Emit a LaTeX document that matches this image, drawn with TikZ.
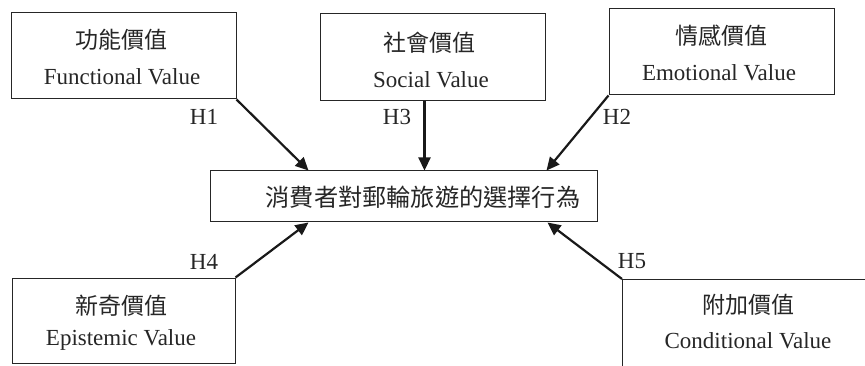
\documentclass[tikz,border=0pt]{standalone}
\usepackage{fontspec}
\setmainfont{Liberation Serif}
\newfontfamily\cjk{Noto Sans CJK TC}
\usetikzlibrary{arrows.meta,calc}
\tikzset{
  vbox/.style={draw=black!85, line width=1pt, rectangle, inner sep=0pt},
  zh/.style={font=\cjk\fontsize{23}{27}\selectfont, text=black!85, inner sep=0pt},
  en/.style={font=\fontsize{23}{27}\selectfont, text=black!85, inner sep=0pt},
  hlab/.style={font=\fontsize{23}{27}\selectfont, text=black!85, inner sep=0pt},
  arr/.style={line width=2.2pt, draw=black!90, -{Triangle[length=13pt,width=12pt]}, shorten >=0pt}
}
\begin{document}
\begin{tikzpicture}[x=1pt,y=-1pt]
\useasboundingbox (0,0) rectangle (865,366);
\clip (0,0) rectangle (865,366);
% boxes
\node[vbox, minimum width=225pt, minimum height=86pt] (f) at (123.5,56) {};
\node[vbox, minimum width=225pt, minimum height=87pt] (s) at (432.5,57.5) {};
\node[vbox, minimum width=225pt, minimum height=86pt] (e) at (721.5,52) {};
\node[vbox, minimum width=387pt, minimum height=51pt] (c) at (403.5,196.5) {};
\node[vbox, minimum width=223pt, minimum height=85pt] (p) at (123.5,320.5) {};
\node[vbox, anchor=north west, minimum width=270pt, minimum height=110pt] (d) at (622,279) {};
% texts
\node[zh] (fz) at (121,40) {功能價值};
\node[en] (fe) at (122,77) {Functional Value};
\node[zh] (sz) at (429,43) {社會價值};
\node[en] (se) at (431,80) {Social Value};
\node[zh] (ez) at (721,36) {情感價值};
\node[en] (ee) at (719,73) {Emotional Value};
\node[zh, font=\cjk\fontsize{24.2}{28}\selectfont] (cz) at (423,197) {消費者對郵輪旅遊的選擇行為};
\node[zh] (pz) at (121,306) {新奇價值};
\node[en] (pe) at (121,340) {Epistemic Value};
\node[zh] (dz) at (748,305) {附加價值};
\node[en] (de) at (748,341) {Conditional Value};
% hypothesis labels
\node[hlab] (h1) at (204,117) {H1};
\node[hlab] (h3) at (397,117) {H3};
\node[hlab] (h2) at (617,117) {H2};
\node[hlab] (h4) at (204,262) {H4};
\node[hlab] (h5) at (632,261) {H5};
% arrow targets
\coordinate (t1) at ($(c.north west)+(99,0)$);
\coordinate (t3) at ($(c.north west)+(215,0)$);
\coordinate (t2) at ($(c.north west)+(337,0)$);
\coordinate (t4) at ($(c.south west)+(99,0)$);
\coordinate (t5) at ($(c.south west)+(338,0)$);
% connectors
\draw[arr] (f.south east) -- (t1);
\draw[arr] (t3 |- s.south) -- (t3);
\draw[arr] (e.south west) -- (t2);
\draw[arr] (p.north east) -- (t4);
\draw[arr] (d.north west) -- (t5);
\end{tikzpicture}
\end{document}
